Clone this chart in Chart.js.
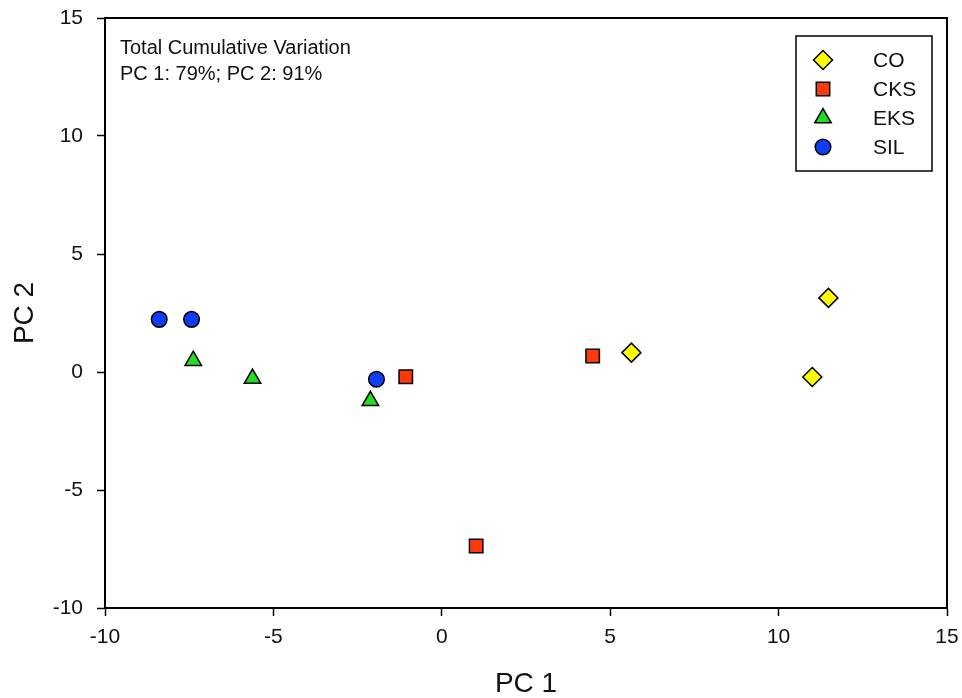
<!DOCTYPE html>
<html>
<head>
<meta charset="utf-8">
<title>PCA scores</title>
<script src="https://cdn.jsdelivr.net/npm/chart.js@4/dist/chart.umd.min.js"></script>
<style>
  html, body { margin: 0; padding: 0; background: #fff; }
  #wrap { width: 962px; height: 698px; }
</style>
</head>
<body>
<div id="wrap"><canvas id="pcaChart" width="962" height="698"></canvas></div>
<script>
  // scores
  var coX = [5.63, 11.48, 11.0];
  var coY = [0.82, 3.14, -0.21];
  var cksX = [-1.07, 4.48, 1.02];
  var cksY = [-0.20, 0.68, -7.37];
  var eksX = [-7.38, -5.62, -2.12];
  var eksY = [0.48, -0.28, -1.22];
  var silX = [-8.39, -7.43, -1.94];
  var silY = [2.23, 2.23, -0.31];

  var groupNames = ["CO", "CKS", "EKS", "SIL"];
  var noteLines = ["Total Cumulative Variation", "PC 1: 79%; PC 2: 91%"];
  var xTicks = [-10, -5, 0, 5, 10, 15];
  var yTicks = [-10, -5, 0, 5, 10, 15];

  var FONT = "'Liberation Sans', Arial, sans-serif";

  function toPoints(xs, ys) {
    return xs.map(function(x, i) { return { x: x, y: ys[i] }; });
  }

  var datasets = [
    { label: groupNames[0], data: toPoints(coX, coY), pointStyle: 'rectRot', pointRadius: 9.5, backgroundColor: '#ffff00' },
    { label: groupNames[1], data: toPoints(cksX, cksY), pointStyle: 'rect', pointRadius: 9.5, backgroundColor: '#ff3a0a' },
    { label: groupNames[2], data: toPoints(eksX, eksY), pointStyle: 'triangle', pointRadius: 9.5, backgroundColor: '#22dd22' },
    { label: groupNames[3], data: toPoints(silX, silY), pointStyle: 'circle', pointRadius: 7.8, backgroundColor: '#0f3cf5' }
  ];
  datasets.forEach(function(ds) {
    ds.borderColor = '#000';
    ds.pointBorderWidth = 1.5;
    ds.pointHoverRadius = ds.pointRadius;
  });

  function drawMarker(ctx, style, r, x, y) {
    if (Chart.helpers && Chart.helpers.drawPoint) {
      Chart.helpers.drawPoint(ctx, { pointStyle: style, radius: r, rotation: 0, borderWidth: 1.5 }, x, y);
      return;
    }
    ctx.beginPath();
    ctx.arc(x, y, r, 0, Math.PI * 2);
    ctx.fill();
    ctx.stroke();
  }

  var framePlugin = {
    id: 'frame',
    afterDatasetsDraw: function(chart) {
      var ctx = chart.ctx, a = chart.chartArea;
      ctx.save();
      // plot box
      ctx.strokeStyle = '#000';
      ctx.lineWidth = 2;
      ctx.strokeRect(a.left, a.top, a.right - a.left, a.bottom - a.top);

      // note in upper left
      ctx.fillStyle = '#111';
      ctx.font = '20px ' + FONT;
      ctx.textBaseline = 'middle';
      ctx.textAlign = 'left';
      noteLines.forEach(function(line, i) {
        ctx.fillText(line, a.left + 15, a.top + 30 + i * 26);
      });

      // legend box
      var bw = 136, bh = 135;
      var bx = a.right - 15 - bw, by = a.top + 18;
      ctx.lineWidth = 1.5;
      ctx.strokeRect(bx, by, bw, bh);
      chart.data.datasets.forEach(function(ds, i) {
        var ry = by + 24 + i * 29;
        ctx.fillStyle = ds.backgroundColor;
        ctx.strokeStyle = '#000';
        ctx.lineWidth = 1.5;
        drawMarker(ctx, ds.pointStyle, ds.pointRadius, bx + 27, ry);
        ctx.fillStyle = '#111';
        ctx.font = '21px ' + FONT;
        ctx.textAlign = 'left';
        ctx.textBaseline = 'middle';
        ctx.fillText(ds.label, bx + 77, ry + 1);
      });
      ctx.restore();
    }
  };

  new Chart(document.getElementById('pcaChart'), {
    type: 'scatter',
    data: { datasets: datasets },
    plugins: [framePlugin],
    options: {
      responsive: false,
      animation: false,
      layout: { padding: { top: 18, right: 15, left: 0, bottom: 0 } },
      plugins: {
        legend: { display: false },
        tooltip: { enabled: false }
      },
      scales: {
        x: {
          type: 'linear',
          min: -10,
          max: 15,
          afterBuildTicks: function(scale) {
            scale.ticks = xTicks.map(function(v) { return { value: v }; });
          },
          afterFit: function(scale) {
            scale.height = 90;
            scale.paddingLeft = 0;
            scale.paddingRight = 0;
          },
          grid: { drawOnChartArea: false, tickLength: 8, tickColor: '#000', tickWidth: 1.5 },
          border: { color: '#000', width: 2 },
          ticks: { color: '#111', padding: 9, font: { family: FONT, size: 21 } },
          title: { display: true, text: 'PC 1', color: '#111', padding: { top: 0, bottom: 0 }, font: { family: FONT, size: 28, lineHeight: 1 } }
        },
        y: {
          type: 'linear',
          min: -10,
          max: 15,
          afterBuildTicks: function(scale) {
            scale.ticks = yTicks.map(function(v) { return { value: v }; });
          },
          afterFit: function(scale) {
            scale.width = 105;
            scale.paddingTop = 0;
            scale.paddingBottom = 0;
          },
          grid: { drawOnChartArea: false, tickLength: 8, tickColor: '#000', tickWidth: 1.5 },
          border: { color: '#000', width: 2 },
          ticks: { color: '#111', padding: 14, font: { family: FONT, size: 21 } },
          title: { display: true, text: 'PC 2', color: '#111', padding: { top: 11, bottom: 0 }, font: { family: FONT, size: 28, lineHeight: 1 } }
        }
      }
    }
  });
</script>
</body>
</html>
